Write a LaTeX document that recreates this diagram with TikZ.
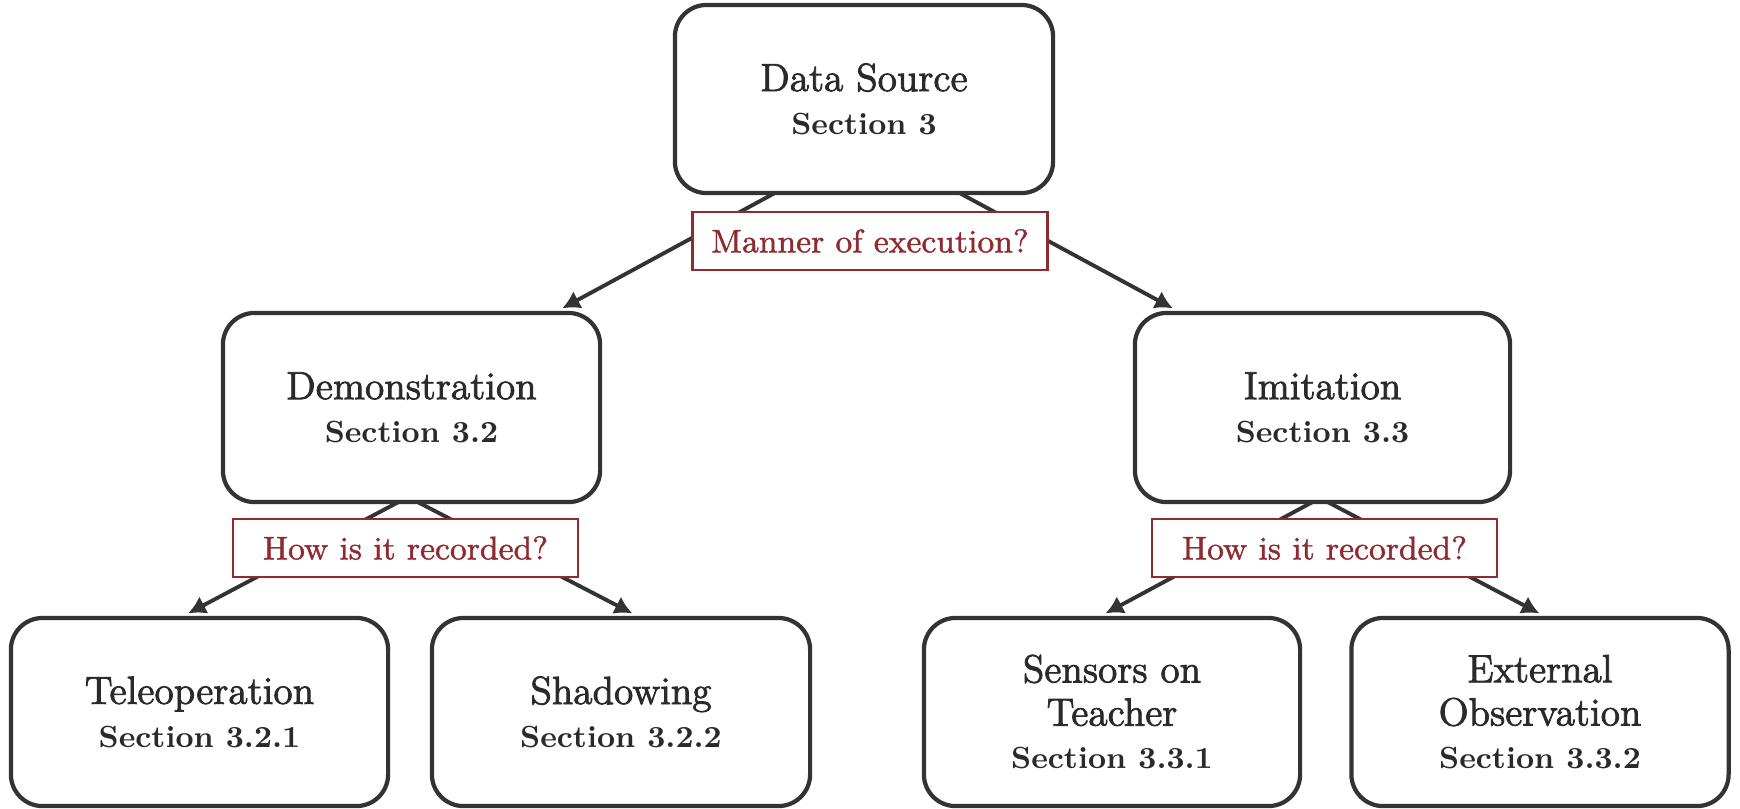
\documentclass[tikz,border=0pt]{standalone}
\usepackage{fontspec}
\usetikzlibrary{arrows.meta,backgrounds}

\definecolor{boxc}{HTML}{333333}
\definecolor{txt}{HTML}{2A2A2A}
\definecolor{qred}{HTML}{8E2A30}

% heavier cut of the roman face for titles and questions
\newfontfamily\heavyfont{Latin Modern Roman}[FakeBold=2]
\newfontfamily\midfont{Latin Modern Roman}[FakeBold=1.2]

% text styles for the boxes
\newcommand\boxtitle[1]{{\heavyfont\fontsize{11.2}{12.3}\selectfont #1}}
\newcommand\boxsec[1]{{\fontsize{8.7}{12.3}\selectfont\bfseries #1}}
\newcommand\qtext[1]{{\midfont\fontsize{9.3}{11}\selectfont #1}}

\tikzset{
  box/.style={draw=boxc, line width=1.2pt, rounded corners=9pt, fill=white,
    align=center, text=txt, inner sep=0pt,
    font=\fontsize{11.2}{12.3}\selectfont},
  qbox/.style={draw=qred, line width=0.7pt, fill=white, text=qred, inner sep=0pt,
    minimum width=3.45cm, minimum height=0.58cm},
  link/.style={draw=boxc, line width=1.1pt, -{Latex[length=5pt,width=5.5pt]},
    shorten >=1.5pt},
}

\begin{document}
\begin{tikzpicture}[x=0.01cm,y=-0.01cm]
\useasboundingbox (0,0) rectangle (1740,808);

% level 1
\node[box, minimum width=3.78cm, minimum height=1.88cm] (src) at (864,99)
  {\boxtitle{Data Source}\\\boxsec{Section 3}};
\node[qbox, minimum width=3.55cm] (manner) at (870,241) {\qtext{Manner of execution?}};

% level 2
\node[box, minimum width=3.77cm, minimum height=1.89cm] (demo) at (411.5,407.5)
  {\boxtitle{Demonstration}\\\boxsec{Section 3.2}};
\node[box, minimum width=3.75cm, minimum height=1.89cm] (imit) at (1322.5,407.5)
  {\boxtitle{Imitation}\\\boxsec{Section 3.3}};
\node[qbox] (howL) at (405.5,548) {\qtext{How is it recorded?}};
\node[qbox] (howR) at (1324.5,548) {\qtext{How is it recorded?}};

% level 3
\node[box, minimum width=3.77cm, minimum height=1.88cm] (tele) at (199.5,712)
  {\boxtitle{Teleoperation}\\\boxsec{Section 3.2.1}};
\node[box, minimum width=3.78cm, minimum height=1.88cm] (shad) at (621,712)
  {\boxtitle{Shadowing}\\\boxsec{Section 3.2.2}};
\node[box, minimum width=3.76cm, minimum height=1.88cm] (sens) at (1112,712)
  {\boxtitle{Sensors on}\\\boxtitle{Teacher}\\\boxsec{Section 3.3.1}};
\node[box, minimum width=3.77cm, minimum height=1.88cm] (ext) at (1540,712)
  {\boxtitle{External}\\\boxtitle{Observation}\\\boxsec{Section 3.3.2}};

% branching points hidden behind the parent boxes
\coordinate (hubSrc) at (867,143);
\coordinate (hubDemo) at (408,497);
\coordinate (hubImit) at (1320,498);

\begin{scope}[on background layer]
  \draw[link] (hubSrc) -- ([xshift=1.46cm]demo.north);
  \draw[link] (hubSrc) -- ([xshift=-1.45cm]imit.north);
  \draw[link] (hubDemo) -- ([xshift=-0.16cm]tele.north);
  \draw[link] (hubDemo) -- ([xshift=0.16cm]shad.north);
  \draw[link] (hubImit) -- ([xshift=-0.11cm]sens.north);
  \draw[link] (hubImit) -- ([xshift=0.04cm]ext.north);
\end{scope}
\end{tikzpicture}
\end{document}
